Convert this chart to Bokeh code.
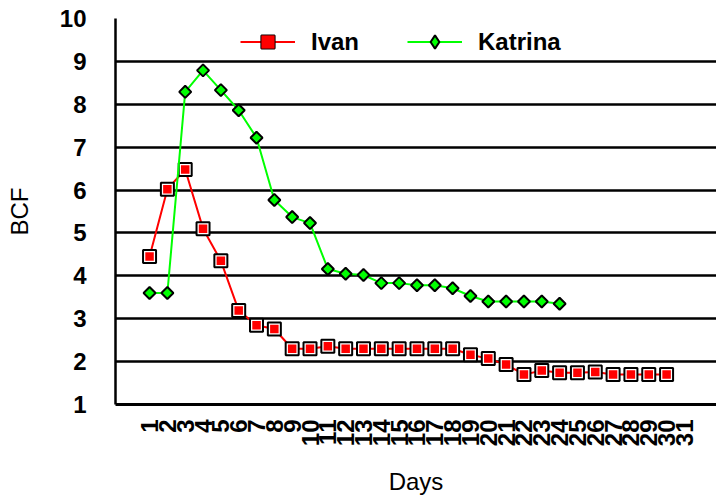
import numpy as np
from bokeh.plotting import figure
from bokeh.models import FixedTicker, Legend, LegendItem, Range1d
from bokeh.embed import file_html
from bokeh.resources import INLINE

# Data
days = list(range(1, 32))
ivan_days = list(range(1, 31))
ivan = [4.45, 6.02, 6.48, 5.10, 4.35, 3.19, 2.85, 2.76,
        2.30, 2.30, 2.36, 2.30, 2.30, 2.30, 2.30, 2.30, 2.30, 2.30,
        2.16, 2.07, 1.93, 1.70, 1.79, 1.74, 1.74, 1.76,
        1.70, 1.70, 1.70, 1.70]
katrina_days = list(range(1, 25))
katrina = [3.60, 3.60, 8.29, 8.79, 8.33, 7.86, 7.22, 5.77, 5.37, 5.23,
           4.16, 4.05, 4.02, 3.83, 3.83, 3.78, 3.78, 3.71, 3.53, 3.40,
           3.40, 3.40, 3.40, 3.35]
y_ticks = list(range(1, 11))
x_title = "Days"
y_title = "BCF"

FONT = "Liberation Sans"
RED = "#FF0000"
GREEN = "#00FF00"

p = figure(width=716, height=498, output_backend="svg", toolbar_location=None,
           x_range=Range1d(-0.91, 32.8), y_range=Range1d(1, 10),
           min_border_left=115, min_border_right=0, min_border_top=18,
           min_border_bottom=93)
p.outline_line_color = None
p.background_fill_color = "white"
p.border_fill_color = "white"

p.xgrid.visible = False
p.ygrid.ticker = FixedTicker(ticks=y_ticks)
p.ygrid.grid_line_color = "black"
p.ygrid.grid_line_width = 2.5

# y axis
p.yaxis.ticker = FixedTicker(ticks=y_ticks)
p.yaxis.axis_line_color = "black"
p.yaxis.axis_line_width = 2.5
p.yaxis.major_tick_in = 0
p.yaxis.major_tick_out = 0
p.yaxis.minor_tick_line_color = None
p.yaxis.major_label_standoff = 29
p.yaxis.major_label_text_font = FONT
p.yaxis.major_label_text_font_size = "24px"
p.yaxis.major_label_text_font_style = "bold"
p.yaxis.major_label_text_color = "black"
p.yaxis.axis_label = y_title
p.yaxis.axis_label_text_font = FONT
p.yaxis.axis_label_text_font_size = "24px"
p.yaxis.axis_label_text_font_style = "normal"
p.yaxis.axis_label_text_color = "black"
p.yaxis.axis_label_standoff = 24

# x axis
p.xaxis.ticker = FixedTicker(ticks=days)
p.xaxis.axis_line_color = "black"
p.xaxis.axis_line_width = 3
p.xaxis.major_tick_in = 0
p.xaxis.major_tick_out = 0
p.xaxis.minor_tick_line_color = None
p.xaxis.major_label_orientation = np.pi / 2
p.xaxis.major_label_standoff = 15
p.xaxis.major_label_text_font = FONT
p.xaxis.major_label_text_font_size = "24px"
p.xaxis.major_label_text_font_style = "bold"
p.xaxis.major_label_text_color = "black"
p.xaxis.axis_label = x_title
p.xaxis.axis_label_text_font = FONT
p.xaxis.axis_label_text_font_size = "24px"
p.xaxis.axis_label_text_font_style = "normal"
p.xaxis.axis_label_text_color = "black"
p.xaxis.axis_label_standoff = 19

# Ivan
ivan_line = p.line(ivan_days, ivan, line_color=RED, line_width=2)
ivan_outer = p.scatter(ivan_days, ivan, marker="square", size=13,
                       fill_color="white", line_color="black", line_width=2)
ivan_inner = p.scatter(ivan_days, ivan, marker="square", size=8.5,
                       fill_color=RED, line_color=None)

# Katrina
kat_line = p.line(katrina_days, katrina, line_color=GREEN, line_width=2)
kat_pts = p.scatter(katrina_days, katrina, marker="square", size=8.5, angle=np.pi / 4,
                    fill_color=GREEN, line_color="black", line_width=2)
# legend-only diamond (a single NaN point, so nothing shows in the plot)
kat_key = p.scatter(x=[np.nan], y=[np.nan], marker="diamond", size=12,
                    fill_color=GREEN, line_color="black", line_width=2)

legend = Legend(items=[
    LegendItem(label="Ivan", renderers=[ivan_line, ivan_outer, ivan_inner]),
    LegendItem(label="Katrina", renderers=[kat_line, kat_key]),
])
legend.orientation = "horizontal"
legend.location = (125, 346)
legend.glyph_width = 55
legend.glyph_height = 33
legend.label_standoff = 16
legend.spacing = 48
legend.padding = 0
legend.margin = 0
legend.border_line_color = None
legend.background_fill_alpha = 0
legend.label_text_font = FONT
legend.label_text_font_size = "24px"
legend.label_text_font_style = "bold"
legend.label_text_color = "black"
p.add_layout(legend)

open("out.html", "w").write(file_html(p, INLINE))
